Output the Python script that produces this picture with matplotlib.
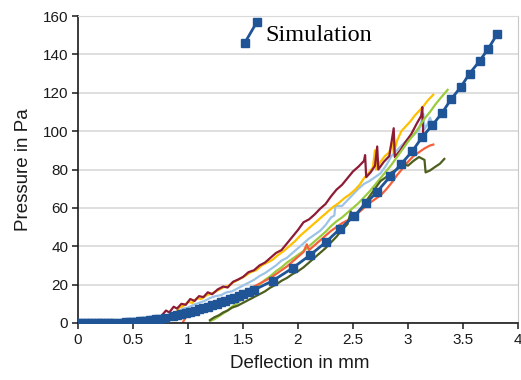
import numpy as np
import matplotlib
matplotlib.use("Agg")
import matplotlib.pyplot as plt
from matplotlib.legend_handler import HandlerLine2D
from matplotlib.lines import Line2D

plt.rcParams['font.family'] = ['Liberation Sans', 'DejaVu Sans']

# simulation curve (deflection mm, pressure Pa)
sim_x = [0, 0.03, 0.06, 0.09, 0.12, 0.15, 0.18, 0.21, 0.24, 0.27, 0.3, 0.33,
         0.38, 0.41, 0.44, 0.47, 0.5, 0.53, 0.56, 0.59, 0.62, 0.65, 0.68, 0.71, 0.74,
         0.79, 0.86, 0.9, 0.94, 0.98, 1.02, 1.06, 1.1, 1.14, 1.18, 1.22, 1.26, 1.3,
         1.34, 1.38, 1.42, 1.46, 1.5, 1.55, 1.6, 1.77, 1.95, 2.11, 2.25, 2.38, 2.51,
         2.62, 2.72, 2.84, 2.94, 3.04, 3.13, 3.22, 3.31, 3.39, 3.48, 3.56, 3.65, 3.73, 3.81]
sim_y = [0, 0, 0, 0, 0, 0, 0, 0, 0, 0, 0, 0,
         0.1, 0.2, 0.3, 0.4, 0.5, 0.6, 0.8, 1.0, 1.2, 1.4, 1.6, 1.9, 2.2,
         2.7, 3.4, 4.0, 4.6, 5.2, 5.8, 6.4, 7.1, 7.8, 8.5, 9.2, 10.0, 10.8,
         11.6, 12.4, 13.2, 14.0, 14.9, 16.0, 17.2, 22.0, 28.6, 35.4, 42.0, 49.0, 55.7,
         62.5, 68.5, 76.5, 83.0, 89.6, 97.0, 103.0, 109.5, 116.5, 123.0, 130.0, 136.5, 143.0, 150.5]

maroon_pts = [(0.74, 0), (0.77, 4.5), (0.8, 6.5), (0.83, 5.5), (0.87, 8.5), (0.9, 7.5),
              (0.94, 10), (0.98, 9.5), (1.02, 12.5), (1.06, 11.5), (1.1, 14), (1.14, 13.5),
              (1.18, 16), (1.22, 15), (1.27, 17.5), (1.32, 19), (1.36, 18.5), (1.41, 21.5),
              (1.45, 22.5), (1.5, 24), (1.55, 26.5), (1.6, 27.5), (1.65, 30), (1.7, 31.5),
              (1.75, 34), (1.8, 36.5), (1.85, 38), (1.9, 41.5), (1.95, 45), (2.0, 48.5),
              (2.05, 52.5), (2.1, 54), (2.15, 56.5), (2.2, 59.5), (2.25, 62), (2.3, 66),
              (2.35, 69.5), (2.4, 72), (2.45, 75.5), (2.5, 79), (2.55, 81.5), (2.6, 84.5),
              (2.61, 87.5), (2.62, 76), (2.66, 78.5), (2.7, 82), (2.72, 92), (2.73, 80),
              (2.78, 84), (2.83, 87), (2.87, 101.5), (2.88, 86.5), (2.93, 90), (2.98, 94.5),
              (3.03, 98.5), (3.08, 104), (3.12, 108), (3.13, 112.5), (3.14, 95), (3.15, 97)]

yellow_pts = [(0.88, 4), (0.92, 8), (0.96, 9), (1.0, 11), (1.04, 10.5), (1.08, 13),
              (1.12, 12.5), (1.17, 14.5), (1.22, 15.5), (1.27, 17), (1.32, 18.5), (1.37, 19.5),
              (1.42, 21.5), (1.47, 23), (1.52, 24.5), (1.57, 26.5), (1.62, 27.5), (1.67, 30),
              (1.72, 31.5), (1.77, 33), (1.82, 35.5), (1.87, 37.5), (1.92, 40), (1.97, 42.5),
              (2.02, 45.5), (2.07, 48), (2.12, 50.5), (2.17, 53), (2.22, 55.5), (2.27, 58),
              (2.32, 60.5), (2.37, 62.5), (2.42, 65), (2.47, 67), (2.52, 69.5), (2.56, 72),
              (2.6, 75.5), (2.64, 78), (2.68, 81), (2.7, 90), (2.71, 80), (2.75, 84),
              (2.79, 87), (2.83, 89), (2.86, 95), (2.87, 88.5), (2.9, 95), (2.94, 100),
              (2.98, 102.5), (3.02, 105), (3.06, 108), (3.1, 110.5), (3.14, 113),
              (3.18, 116), (3.23, 119)]

lightblue_pts = [(0.85, 2), (0.9, 5), (0.95, 7.5), (1.0, 8), (1.05, 9.5), (1.1, 10.5),
                 (1.15, 11.5), (1.2, 13), (1.25, 14), (1.3, 14.5), (1.35, 16), (1.4, 16.5),
                 (1.45, 18), (1.5, 19.5), (1.55, 21), (1.6, 22.5), (1.65, 24.5), (1.7, 26),
                 (1.75, 28), (1.8, 30), (1.85, 32.5), (1.9, 34), (1.95, 36.5), (2.0, 39),
                 (2.05, 41.5), (2.1, 44), (2.15, 46), (2.2, 48), (2.25, 51), (2.3, 55),
                 (2.33, 56), (2.34, 61), (2.4, 61), (2.45, 64), (2.5, 67), (2.55, 70),
                 (2.6, 72.5), (2.65, 74), (2.7, 76), (2.75, 78), (2.8, 82), (2.85, 87),
                 (2.9, 90), (2.95, 93), (3.0, 96), (3.05, 98), (3.1, 100.5), (3.14, 109),
                 (3.15, 101), (3.18, 104), (3.2, 107), (3.22, 104)]

lime_pts = [(1.2, 1), (1.24, 2), (1.28, 3.5), (1.32, 5), (1.36, 6.5), (1.4, 8.5),
            (1.45, 10.5), (1.5, 13), (1.55, 15.5), (1.6, 18), (1.65, 20), (1.7, 22.5),
            (1.75, 24.5), (1.8, 27), (1.85, 29), (1.9, 31.5), (1.95, 33.5), (2.0, 35.5),
            (2.05, 37.5), (2.1, 40), (2.15, 42.5), (2.2, 45), (2.25, 47.5), (2.3, 50.5),
            (2.35, 53), (2.4, 55), (2.45, 57.5), (2.5, 60), (2.55, 62.5), (2.6, 65.5),
            (2.65, 68.5), (2.7, 72), (2.75, 75.5), (2.8, 79), (2.85, 82.5), (2.9, 86.5),
            (2.95, 90.5), (3.0, 94.5), (3.05, 98), (3.1, 102), (3.15, 106.5), (3.2, 110),
            (3.25, 114), (3.3, 117.5), (3.36, 121.5)]

orange_pts = [(0.95, 0), (0.98, 3), (1.02, 4.5), (1.06, 5), (1.1, 6.5), (1.15, 7.5),
              (1.2, 9), (1.25, 10), (1.3, 11), (1.35, 12.5), (1.4, 13.5), (1.45, 15),
              (1.5, 16), (1.55, 17.5), (1.6, 19), (1.65, 20.5), (1.7, 22), (1.75, 23.5),
              (1.8, 25.5), (1.85, 27.5), (1.9, 29.5), (1.95, 32), (2.0, 34.5), (2.05, 37),
              (2.08, 41), (2.1, 38), (2.15, 40.5), (2.2, 43), (2.25, 45.5), (2.3, 48),
              (2.35, 50), (2.4, 52), (2.45, 53.5), (2.5, 55.5), (2.55, 57.5), (2.6, 60),
              (2.65, 62.5), (2.7, 64.5), (2.75, 66.5), (2.8, 69.5), (2.85, 73), (2.9, 77),
              (2.95, 80.5), (3.0, 84), (3.05, 87), (3.1, 89), (3.15, 91), (3.2, 92.5),
              (3.23, 93)]

olive_pts = [(1.2, 1.5), (1.24, 3), (1.28, 4), (1.32, 5.5), (1.36, 6.5), (1.4, 8),
             (1.45, 9), (1.5, 10.5), (1.55, 12), (1.6, 13.5), (1.65, 15), (1.7, 16.5),
             (1.75, 18.5), (1.8, 20), (1.85, 22), (1.9, 23.5), (1.95, 25.5), (2.0, 27),
             (2.05, 29), (2.1, 31.5), (2.15, 34), (2.2, 36.5), (2.25, 39), (2.3, 42),
             (2.35, 45), (2.4, 48.5), (2.45, 51.5), (2.48, 58), (2.5, 54.5), (2.55, 58),
             (2.6, 62), (2.65, 66), (2.7, 70), (2.75, 74), (2.8, 76), (2.85, 78.5),
             (2.9, 80), (2.95, 83), (3.0, 82), (3.05, 84.5), (3.1, 86.5), (3.15, 85),
             (3.16, 78.5), (3.2, 79.5), (3.25, 81.5), (3.29, 83), (3.33, 85.5)]

measured = [
    (lightblue_pts, '#9DC3E6'),
    (yellow_pts, '#FFC000'),
    (maroon_pts, '#8E1B35'),
    (lime_pts, '#9BCB3C'),
    (orange_pts, '#F5603A'),
    (olive_pts, '#4D5F1E'),
]

x_ticks = [0, 0.5, 1, 1.5, 2, 2.5, 3, 3.5, 4]
x_tick_labels = ['0', '0.5', '1', '1.5', '2', '2.5', '3', '3.5', '4']
y_ticks = [0, 20, 40, 60, 80, 100, 120, 140, 160]


class DiagonalHandler(HandlerLine2D):
    # Excel draws the legend key as a short rising line with a marker at each end
    def create_artists(self, legend, orig_handle, xdescent, ydescent,
                       width, height, fontsize, trans):
        x0 = -xdescent + 0.3 * width
        x1 = -xdescent + 0.95 * width
        y0 = -ydescent - 0.1 * height
        y1 = -ydescent + 1.1 * height
        ln = Line2D([x0, x1], [y0, y1], color=orig_handle.get_color(),
                    lw=orig_handle.get_linewidth(), marker='s',
                    ms=orig_handle.get_markersize(),
                    transform=trans)
        return [ln]


fig = plt.figure(figsize=(5.21, 3.80), dpi=100)
ax = fig.add_axes([78 / 521, 1 - 323 / 380, 440 / 521, 307 / 380])

for pts, col in measured:
    arr = np.array(pts)
    ax.plot(arr[:, 0], arr[:, 1], color=col, lw=1.6, zorder=2)

sim_line, = ax.plot(sim_x, sim_y, color='#1F5597', lw=2.0, marker='s', ms=5.5,
                    zorder=3, label='Simulation')

ax.set_xlim(0, 4)
ax.set_ylim(0, 160)
ax.set_xticks(x_ticks)
ax.set_xticklabels(x_tick_labels)
ax.set_yticks(y_ticks)
ax.grid(axis='y', color='#D9D9D9', lw=1.2, zorder=0)
ax.set_axisbelow(True)

for s in ['left', 'bottom']:
    ax.spines[s].set_color('#1A1A1A')
    ax.spines[s].set_linewidth(1.2)
ax.spines['right'].set_color('#C8C8C8')
ax.spines['top'].set_color('#D9D9D9')
ax.tick_params(axis='both', direction='out', length=4, width=1.1,
               labelsize=11, colors='#1A1A1A', pad=3)

ax.set_xlabel('Deflection in mm', fontsize=13.5, color='#1A1A1A')
ax.set_ylabel('Pressure in Pa', fontsize=13.5, color='#1A1A1A')
ax.xaxis.set_label_coords(0.505, -0.105)
ax.yaxis.set_label_coords(-0.105, 0.5)

ax.legend(handles=[sim_line], handler_map={sim_line: DiagonalHandler()},
          loc='upper left', bbox_to_anchor=(0.317, 1.045), frameon=False,
          handlelength=0.75, handletextpad=0.3,
          prop={'family': 'Liberation Serif', 'size': 17.5})

fig.savefig('out.png', dpi=100)
